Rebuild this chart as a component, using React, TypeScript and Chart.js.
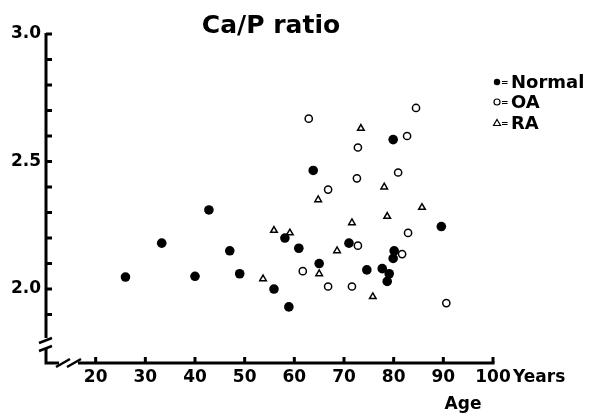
import React, { useEffect, useRef } from 'react';
import { Chart, registerables } from 'chart.js';

Chart.register(...registerables);

const titleText = 'Ca/P ratio';
const xUnit = 'Years';
const xTitle = 'Age';

const normalAge = [26.0, 33.3, 40.0, 42.8, 47.0, 49.0, 55.9, 58.1, 58.9, 60.9, 63.8, 65.0, 71.0, 79.9, 74.6, 77.7, 79.1, 78.7, 80.1, 79.9, 89.6];
const normalRatio = [2.047, 2.18, 2.05, 2.31, 2.15, 2.06, 2.0, 2.2, 1.93, 2.16, 2.465, 2.1, 2.18, 2.586, 2.075, 2.08, 2.06, 2.03, 2.15, 2.12, 2.245];

const oaAge = [62.9, 84.5, 82.7, 72.8, 80.9, 72.6, 66.8, 82.9, 72.8, 81.7, 61.7, 66.8, 71.6, 90.6];
const oaRatio = [2.668, 2.71, 2.6, 2.555, 2.457, 2.434, 2.39, 2.22, 2.17, 2.137, 2.07, 2.01, 2.01, 1.945];

const raAge = [73.4, 78.1, 64.8, 85.7, 71.6, 78.7, 68.6, 65.0, 75.8, 55.9, 59.1, 53.7];
const raRatio = [2.63, 2.4, 2.35, 2.32, 2.26, 2.285, 2.15, 2.06, 1.97, 2.23, 2.22, 2.04];

const seriesNames = ['Normal', 'OA', 'RA'];
const xTickValues = [20, 30, 40, 50, 60, 70, 80, 90, 100];
const yLabelValues = [2.0, 2.5, 3.0];
const yMinorTicks = [1.9, 2.0, 2.1, 2.2, 2.3, 2.4, 2.5, 2.6, 2.7, 2.8, 2.9, 3.0];

const FONT = '"DejaVu Sans", sans-serif';

const toPts = (xs: number[], ys: number[]) => xs.map((x, i) => ({ x, y: ys[i] }));

const overlay = {
  id: 'overlay',
  afterDraw(chart: any) {
    const ctx = chart.ctx as CanvasRenderingContext2D;
    const xs = chart.scales.x;
    const ys = chart.scales.y;
    const left = chart.chartArea.left;
    const bottom = chart.chartArea.bottom;
    const top = ys.getPixelForValue(3.0);
    const right = xs.getPixelForValue(100);
    ctx.save();
    ctx.strokeStyle = '#000';
    ctx.fillStyle = '#000';
    ctx.lineWidth = 3;
    ctx.lineCap = 'butt';
    // y axis with break
    ctx.beginPath();
    ctx.moveTo(left, top - 1);
    ctx.lineTo(left, bottom - 25);
    ctx.stroke();
    ctx.lineWidth = 2.5;
    ctx.beginPath();
    ctx.moveTo(left - 7, bottom - 20);
    ctx.lineTo(left + 6, bottom - 25);
    ctx.moveTo(left - 7, bottom - 12);
    ctx.lineTo(left + 6, bottom - 17);
    ctx.stroke();
    ctx.lineWidth = 3;
    ctx.beginPath();
    ctx.moveTo(left, bottom - 15);
    ctx.lineTo(left, bottom);
    ctx.lineTo(left + 13, bottom);
    ctx.stroke();
    // x axis break
    ctx.lineWidth = 2.5;
    ctx.beginPath();
    ctx.moveTo(left + 10, bottom + 4);
    ctx.lineTo(left + 24, bottom - 4);
    ctx.moveTo(left + 21, bottom + 4);
    ctx.lineTo(left + 35, bottom - 4);
    ctx.stroke();
    ctx.lineWidth = 3;
    ctx.beginPath();
    ctx.moveTo(left + 32, bottom);
    ctx.lineTo(right + 1.5, bottom);
    ctx.stroke();
    // y ticks
    ctx.lineWidth = 3;
    ctx.beginPath();
    yMinorTicks.forEach((v) => {
      const py = ys.getPixelForValue(v);
      ctx.moveTo(left, py);
      ctx.lineTo(left + 6, py);
    });
    // x ticks
    xTickValues.forEach((v) => {
      const px = xs.getPixelForValue(v);
      ctx.moveTo(px, bottom);
      ctx.lineTo(px, bottom - 6);
    });
    ctx.stroke();

    // title
    ctx.font = 'bold 25px ' + FONT;
    ctx.textAlign = 'center';
    ctx.textBaseline = 'alphabetic';
    ctx.fillText(titleText, 271, 33);

    // x unit and title
    ctx.font = 'bold 17px ' + FONT;
    ctx.textAlign = 'left';
    ctx.textBaseline = 'middle';
    ctx.fillText(xUnit, right + 20, bottom + 15);
    ctx.textAlign = 'center';
    ctx.fillText(xTitle, 463, bottom + 42);

    // legend
    const lx = 497;
    const rows = [82, 102, 123];
    rows.forEach((ry, i) => {
      ctx.lineWidth = 1.2;
      ctx.beginPath();
      if (i === 0) {
        ctx.arc(lx, ry, 3.2, 0, Math.PI * 2);
        ctx.fill();
      } else if (i === 1) {
        ctx.arc(lx, ry, 3, 0, Math.PI * 2);
        ctx.stroke();
      } else {
        ctx.moveTo(lx, ry - 3.5);
        ctx.lineTo(lx + 3.5, ry + 2.5);
        ctx.lineTo(lx - 3.5, ry + 2.5);
        ctx.closePath();
        ctx.stroke();
      }
      ctx.font = 'bold 9px ' + FONT;
      ctx.textAlign = 'left';
      ctx.textBaseline = 'middle';
      ctx.fillText('=', lx + 4, ry + 1);
      ctx.font = 'bold 18px ' + FONT;
      ctx.fillText(seriesNames[i], lx + 14, ry + 1);
    });
    ctx.restore();
  },
};

export default function App() {
  const ref = useRef<HTMLCanvasElement | null>(null);
  useEffect(() => {
    if (!ref.current) return;
    const chart = new Chart(ref.current, {
      type: 'scatter',
      data: {
        datasets: [
          {
            label: seriesNames[0],
            data: toPts(normalAge, normalRatio),
            pointStyle: 'circle',
            pointRadius: 4.8,
            backgroundColor: '#000',
            borderColor: '#000',
            borderWidth: 0,
          },
          {
            label: seriesNames[1],
            data: toPts(oaAge, oaRatio),
            pointStyle: 'circle',
            pointRadius: 3.6,
            backgroundColor: '#fff',
            borderColor: '#000',
            borderWidth: 1.5,
          },
          {
            label: seriesNames[2],
            data: toPts(raAge, raRatio),
            pointStyle: 'triangle',
            pointRadius: 3.8,
            backgroundColor: '#fff',
            borderColor: '#000',
            borderWidth: 1.5,
          },
        ],
      },
      options: {
        responsive: false,
        animation: false,
        events: [],
        layout: { padding: { left: 0, top: 34, right: 98, bottom: 0 } },
        plugins: {
          legend: { display: false },
          tooltip: { enabled: false },
          title: { display: false },
        },
        scales: {
          x: {
            type: 'linear',
            min: 10,
            max: 100,
            afterBuildTicks: (s: any) => {
              s.ticks = xTickValues.map((v) => ({ value: v }));
            },
            afterFit: (s: any) => {
              s.height = 53;
            },
            grid: { display: false, drawTicks: false },
            border: { display: false },
            ticks: {
              padding: 4,
              color: '#000',
              font: { family: FONT, size: 17, weight: 'bold' },
              callback: (v: any) => String(v),
            },
          },
          y: {
            type: 'linear',
            min: 1.71,
            max: 3.0,
            afterBuildTicks: (s: any) => {
              s.ticks = yLabelValues.map((v) => ({ value: v }));
            },
            afterFit: (s: any) => {
              s.width = 46;
            },
            grid: { display: false, drawTicks: false },
            border: { display: false },
            ticks: {
              padding: 5,
              color: '#000',
              font: { family: FONT, size: 17, weight: 'bold' },
              callback: (v: any) => Number(v).toFixed(1),
            },
          },
        },
      },
      plugins: [overlay],
    });
    return () => chart.destroy();
  }, []);
  return (
    <div style={{ position: 'fixed', left: 0, top: 0, width: 591, height: 416, background: '#fff' }}>
      <canvas ref={ref} width={591} height={416} />
    </div>
  );
}
